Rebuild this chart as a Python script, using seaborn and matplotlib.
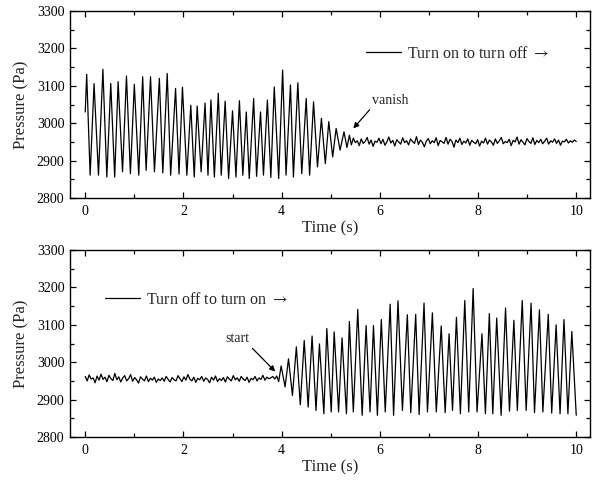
import numpy as np
import pandas as pd
import matplotlib
matplotlib.use("Agg")
import matplotlib.pyplot as plt
from matplotlib.ticker import MultipleLocator
import seaborn as sns

# ---------------- data ----------------
# Top panel: turn on -> turn off
top_start_t = [0.00]
top_start_p = [3030]
top_peak_t = [0.03, 0.18, 0.36, 0.52, 0.67, 0.84, 1.00, 1.17, 1.33, 1.51,
              1.67, 1.84, 1.98, 2.15, 2.28, 2.44, 2.56, 2.71, 2.85, 3.00,
              3.14, 3.28, 3.43, 3.57, 3.71, 3.85, 4.02, 4.18, 4.33, 4.50,
              4.65, 4.81, 4.96, 5.11, 5.27]
top_peak_p = [3131, 3106, 3144, 3106, 3111, 3126, 3104, 3124, 3124, 3120,
              3133, 3093, 3096, 3048, 3046, 3054, 3062, 3080, 3059, 3033,
              3060, 3030, 3066, 3030, 3062, 3097, 3142, 3102, 3108, 3066,
              3057, 3013, 3004, 2986, 2977]
top_trough_t = [0.10, 0.27, 0.44, 0.60, 0.76, 0.92, 1.09, 1.24, 1.41, 1.58,
                1.74, 1.91, 2.07, 2.22, 2.36, 2.50, 2.63, 2.77, 2.92, 3.07,
                3.21, 3.34, 3.49, 3.63, 3.78, 3.94, 4.09, 4.24, 4.41, 4.57,
                4.73, 4.89, 5.04, 5.19, 5.33]
top_trough_p = [2861, 2861, 2856, 2856, 2870, 2865, 2861, 2874, 2870, 2867,
                2861, 2864, 2861, 2856, 2870, 2861, 2856, 2861, 2852, 2856,
                2861, 2852, 2858, 2861, 2855, 2852, 2861, 2856, 2865, 2861,
                2883, 2892, 2910, 2928, 2935]
top_noise_span = [5.38, 10.0]
top_noise_p = [2968, 2942, 2960, 2948, 2953, 2940, 2958, 2946, 2951, 2962, 2944, 2955, 2938, 2952, 2949, 2960, 2945, 2957, 2941, 2950,
               2963, 2947, 2954, 2939, 2956, 2950, 2944, 2961, 2948, 2953, 2942, 2958, 2951, 2946, 2964, 2943, 2955, 2949, 2937, 2952,
               2959, 2945, 2953, 2948, 2961, 2940, 2954, 2950, 2946, 2962, 2944, 2957, 2951, 2936, 2955, 2948, 2960, 2943, 2952, 2947,
               2958, 2941, 2954, 2949, 2945, 2956, 2939, 2952, 2947, 2960, 2944, 2955, 2950, 2941, 2958, 2946, 2953, 2962, 2945, 2951,
               2948, 2957, 2940, 2954, 2950, 2963, 2944, 2956, 2949, 2942, 2959, 2951, 2946, 2961, 2943, 2954, 2948, 2957, 2945, 2952,
               2960, 2944, 2953, 2949, 2958, 2946, 2955, 2941, 2952, 2950, 2957, 2947, 2953, 2949, 2955, 2951]

# Bottom panel: turn off -> turn on
bot_noise_span = [0.0, 3.90]
bot_noise_p = [2962, 2950, 2966, 2955, 2958, 2945, 2963, 2952, 2968, 2954, 2960, 2948, 2965, 2956, 2951, 2970, 2953, 2961, 2947, 2958,
               2964, 2950, 2956, 2967, 2949, 2959, 2953, 2944, 2961, 2955, 2950, 2963, 2948, 2957, 2952, 2960, 2946, 2955, 2951, 2958,
               2949, 2962, 2954, 2947, 2959, 2953, 2950, 2964, 2956, 2948, 2961, 2952, 2967, 2955, 2950, 2960, 2946, 2957, 2953, 2962,
               2949, 2958, 2954, 2945, 2960, 2952, 2963, 2948, 2956, 2951, 2959, 2947, 2961, 2955, 2950, 2964, 2953, 2958, 2949, 2962,
               2955, 2951, 2960, 2946, 2957, 2953, 2962, 2950, 2958, 2954, 2965, 2952, 2960, 2956, 2958, 2962, 2955, 2963]
bot_peak_t = [3.99, 4.14, 4.30, 4.46, 4.62, 4.77, 4.92, 5.07, 5.23, 5.38,
              5.55, 5.72, 5.87, 6.03, 6.21, 6.37, 6.56, 6.73, 6.90, 7.07,
              7.25, 7.41, 7.56, 7.73, 7.90, 8.08, 8.23, 8.38, 8.56, 8.73,
              8.90, 9.08, 9.25, 9.43, 9.59, 9.75, 9.91]
bot_peak_p = [2990, 3009, 3041, 3058, 3070, 3049, 3090, 3081, 3065, 3109,
              3141, 3098, 3098, 3114, 3155, 3164, 3127, 3128, 3158, 3132,
              3097, 3076, 3120, 3165, 3197, 3076, 3130, 3118, 3145, 3112,
              3165, 3158, 3140, 3128, 3100, 3114, 3082]
bot_trough_t = [3.94, 4.07, 4.22, 4.38, 4.54, 4.70, 4.86, 5.01, 5.16, 5.32,
                5.46, 5.64, 5.80, 5.95, 6.11, 6.28, 6.46, 6.63, 6.80, 6.97,
                7.15, 7.33, 7.48, 7.64, 7.81, 7.98, 8.15, 8.30, 8.47, 8.64,
                8.80, 8.98, 9.15, 9.32, 9.50, 9.67, 9.83, 10.0]
bot_trough_p = [2948, 2934, 2911, 2886, 2880, 2871, 2862, 2867, 2867, 2862,
                2867, 2858, 2867, 2858, 2867, 2858, 2871, 2865, 2860, 2867,
                2867, 2865, 2871, 2862, 2867, 2867, 2862, 2862, 2858, 2869,
                2871, 2871, 2865, 2867, 2864, 2862, 2862, 2858]

x_ticks = [0, 2, 4, 6, 8, 10]
y_ticks = [2800, 2900, 3000, 3100, 3200, 3300]
top_label = r"Turn on to turn off $\rightarrow$"
bot_label = r"Turn off to turn on $\rightarrow$"

# ---------------- assemble series ----------------
def build(parts):
    t = np.concatenate([np.asarray(a, float) for a, _ in parts])
    p = np.concatenate([np.asarray(b, float) for _, b in parts])
    df = pd.DataFrame({"Time (s)": t, "Pressure (Pa)": p})
    return df.sort_values("Time (s)").reset_index(drop=True)

top_noise_t = np.linspace(top_noise_span[0], top_noise_span[1], len(top_noise_p))
bot_noise_t = np.linspace(bot_noise_span[0], bot_noise_span[1], len(bot_noise_p))

df_top = build([(top_start_t, top_start_p), (top_peak_t, top_peak_p),
                (top_trough_t, top_trough_p), (top_noise_t, top_noise_p)])
df_bot = build([(bot_noise_t, bot_noise_p), (bot_peak_t, bot_peak_p),
                (bot_trough_t, bot_trough_p)])

# ---------------- plotting ----------------
sns.set_theme(style="ticks")
plt.rcParams["font.family"] = ["Liberation Serif", "DejaVu Serif"]
plt.rcParams["mathtext.fontset"] = "stix"
plt.rcParams["axes.linewidth"] = 1.0

W, H = 593, 486
fig = plt.figure(figsize=(W / 100, H / 100), dpi=100)
ax1 = fig.add_axes([70 / W, 1 - 198 / H, 520 / W, 187 / H])
ax2 = fig.add_axes([70 / W, 1 - 437 / H, 520 / W, 187 / H])

for ax, df, lab, anchor in [(ax1, df_top, top_label, (0.569, 0.770)),
                            (ax2, df_bot, bot_label, (0.067, 0.733))]:
    sns.lineplot(data=df, x="Time (s)", y="Pressure (Pa)", ax=ax,
                 color="black", linewidth=0.9, estimator=None, sort=True,
                 label=lab)
    ax.set_xlim(-0.31, 10.28)
    ax.set_ylim(2800, 3300)
    ax.set_xticks(x_ticks)
    ax.set_yticks(y_ticks)
    ax.xaxis.set_minor_locator(MultipleLocator(1))
    ax.yaxis.set_minor_locator(MultipleLocator(50))
    ax.tick_params(which="both", direction="in", top=True, right=True,
                   labelsize=10, colors="black", width=0.9)
    ax.tick_params(which="major", length=4)
    ax.tick_params(which="minor", length=3)
    ax.tick_params(axis="x", pad=5)
    ax.tick_params(axis="y", pad=4)
    ax.set_xlabel("Time (s)", fontsize=12, labelpad=2)
    ax.set_ylabel("Pressure (Pa)", fontsize=12, labelpad=5)
    for s in ax.spines.values():
        s.set_color("black")
        s.set_linewidth(1.0)
    ax.legend(loc="center left", bbox_to_anchor=anchor, frameon=False,
              handlelength=2.2, handletextpad=0.4, borderpad=0,
              borderaxespad=0, fontsize=11.5)

ax1.annotate("vanish", xy=(5.46, 2986), xytext=(5.85, 3062),
             fontsize=10, ha="left", va="center",
             arrowprops=dict(arrowstyle="-|>", color="black", lw=0.9,
                             shrinkA=0, shrinkB=0, mutation_scale=8,
                             relpos=(0, 0)))
ax2.annotate("start", xy=(3.87, 2975), xytext=(3.34, 3063),
             fontsize=10, ha="right", va="center",
             arrowprops=dict(arrowstyle="-|>", color="black", lw=0.9,
                             shrinkA=0, shrinkB=0, mutation_scale=8,
                             relpos=(1, 0)))

fig.savefig("out.png", dpi=100, facecolor="white")
